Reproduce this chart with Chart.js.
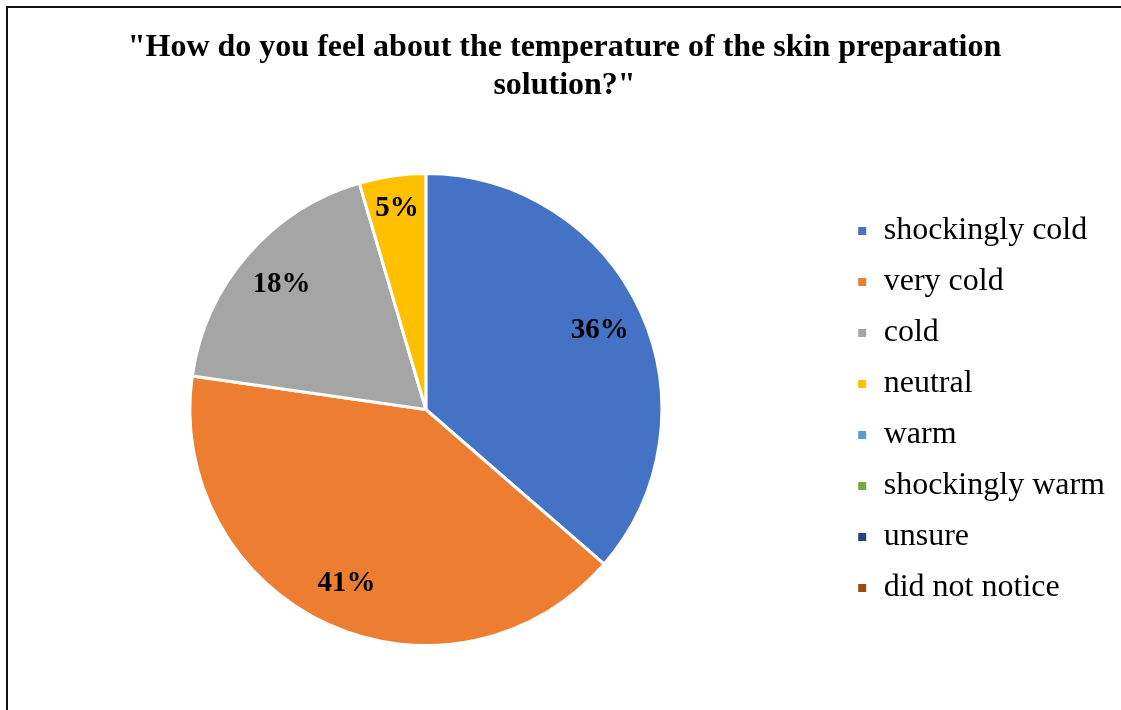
<!DOCTYPE html>
<html>
<head>
<meta charset="utf-8">
<script src="https://cdn.jsdelivr.net/npm/chart.js@4.4.1/dist/chart.umd.min.js"></script>
<style>
  html, body { margin: 0; padding: 0; background: #fff; }
  #wrap { position: relative; width: 1121px; height: 710px; overflow: hidden; }
  #frame { position: absolute; left: 6px; top: 6px; width: 1200px; height: 800px;
           border-left: 2px solid #111; border-top: 2px solid #111; pointer-events: none; }
  canvas { position: absolute; left: 0; top: 0; }
</style>
</head>
<body>
<div id="wrap">
  <canvas id="pieChart" width="1121" height="710"></canvas>
  <div id="frame"></div>
</div>
<script>
// data
const categories = [
  "shockingly cold",
  "very cold",
  "cold",
  "neutral",
  "warm",
  "shockingly warm",
  "unsure",
  "did not notice",
];
const responses = [8, 9, 4, 1, 0, 0, 0, 0];
const sliceColors = [
  "#4472C4",
  "#ED7D31",
  "#A5A5A5",
  "#FFC000",
  "#5B9BD5",
  "#70AD47",
  "#264478",
  "#9E480E",
];
const titleLines = [
  '"How do you feel about the temperature of the skin preparation',
  'solution?"',
];

const SERIF = "'Liberation Serif', 'Times New Roman', serif";

// ── percentage labels inside the slices
const pctLabels = {
  id: "pctLabels",
  afterDatasetsDraw(chart) {
    const { ctx } = chart;
    const meta = chart.getDatasetMeta(0);
    const data = chart.data.datasets[0].data;
    const total = data.reduce((a, b) => a + b, 0);
    ctx.save();
    ctx.font = "bold 29px " + SERIF;
    ctx.fillStyle = "#000";
    ctx.textAlign = "center";
    ctx.textBaseline = "middle";
    meta.data.forEach((arc, i) => {
      if (!data[i]) return;
      const p = arc.getProps(["x", "y", "startAngle", "endAngle", "outerRadius"], true);
      const mid = (p.startAngle + p.endAngle) / 2;
      const r = p.outerRadius * (data[i] / total < 0.1 ? 0.86 : 0.81);
      const pct = Math.round((data[i] / total) * 100) + "%";
      ctx.fillText(pct, p.x + Math.cos(mid) * r, p.y + Math.sin(mid) * r);
    });
    ctx.restore();
  },
};

new Chart(document.getElementById("pieChart").getContext("2d"), {
  type: "pie",
  data: {
    labels: categories,
    datasets: [
      {
        data: responses,
        backgroundColor: sliceColors,
        borderColor: "#fff",
        borderWidth: 3,
      },
    ],
  },
  options: {
    responsive: false,
    animation: false,
    layout: { padding: { left: 14, right: 6, top: 0, bottom: 63 } },
    plugins: {
      title: {
        display: true,
        text: titleLines,
        color: "#000",
        font: { family: SERIF, size: 32, weight: "bold", lineHeight: 38 / 32 },
        padding: { top: 29, bottom: 67 },
      },
      legend: {
        position: "right",
        fullSize: false,
        labels: {
          color: "#000",
          font: { family: SERIF, size: 32 },
          boxWidth: 11,
          boxHeight: 11,
          padding: 19,
        },
      },
      tooltip: { enabled: false },
    },
  },
  plugins: [pctLabels],
});
</script>
</body>
</html>
